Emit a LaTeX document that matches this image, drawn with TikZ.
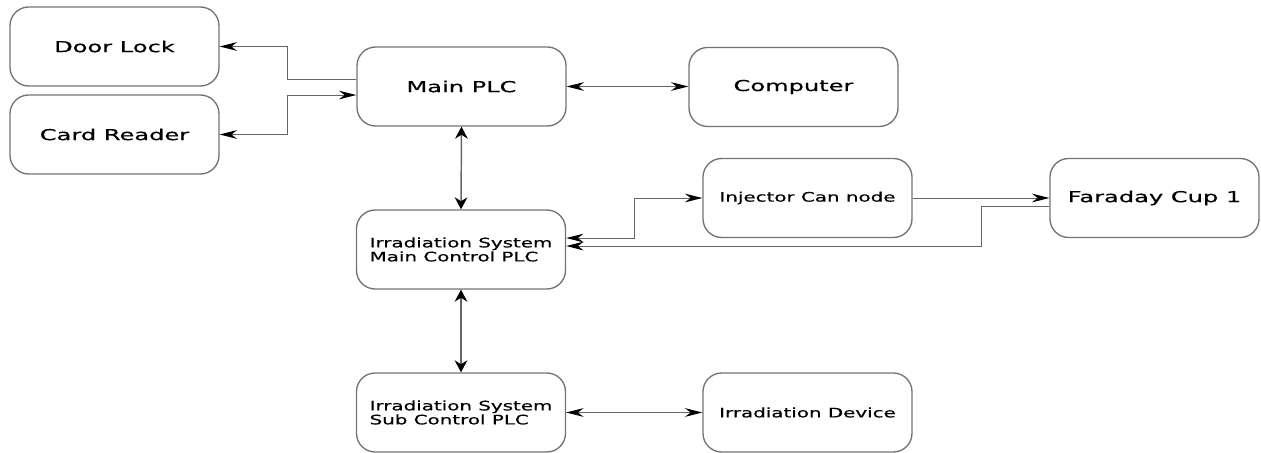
\documentclass[tikz,border=0pt]{standalone}
\usepackage{fontspec}
\setmainfont{DejaVu Sans}
\usepackage{graphicx}
\usetikzlibrary{arrows.meta}

% texte etire en largeur
\newcommand{\grand}[1]{\scalebox{1.6}[1]{\fontsize{11.3}{13}\selectfont\addfontfeature{FakeBold=0.4}#1}}
\newcommand{\petit}[1]{\scalebox{1.52}[1]{\fontsize{9.8}{9.4}\selectfont\addfontfeature{FakeBold=0.4}#1}}

\begin{document}
\begin{tikzpicture}[x=0.75pt, y=-0.75pt,
    bloc/.style={draw=black!55, line width=1pt, rounded corners=14pt,
      minimum width=156.75pt, minimum height=59.25pt, inner sep=0pt},
    deuxlignes/.style={align=left, font=\fontsize{9.8}{9.4}\selectfont},
    lien/.style={draw=black!60, line width=0.75pt},
    hfleche/.style={>={Stealth[length=13pt,width=6.5pt,black]}},
    vfleche/.style={line width=1.1pt, >={Stealth[length=9pt,width=9.5pt,black]}}]
    \useasboundingbox (0,0) rectangle (1261,453);
    % blocs
    \node[bloc] (porte) at (114.5,46.5) {\grand{Door Lock}};
    \node[bloc] (carte) at (114.5,134.5) {\grand{Card Reader}};
    \node[bloc] (plc) at (461.5,86.5) {\grand{Main PLC}};
    \node[bloc] (pc) at (793.5,87) {\grand{Computer}};
    \node[bloc, deuxlignes] (irrmain) at (461,249.5) {\petit{Irradiation System}\\\petit{Main Control PLC}};
    \node[bloc] (inj) at (807.5,198) {\petit{Injector Can node}};
    \node[bloc] (fc) at (1154.5,198) {\grand{Faraday Cup 1}};
    \node[bloc, deuxlignes] (irrsub) at (461,412.5) {\petit{Irradiation System}\\\petit{Sub Control PLC}};
    \node[bloc] (dev) at (807.5,412.5) {\petit{Irradiation Device}};
    % points de passage
    \coordinate (busG) at (287,0);
    \coordinate (busI) at (634,0);
    \coordinate (busF) at (981,0);
    \coordinate (plcA) at ([yshift=5.6pt]plc.west);
    \coordinate (plcB) at ([yshift=-6.4pt]plc.west);
    \coordinate (irrA) at ([yshift=8.6pt]irrmain.east);
    \coordinate (irrB) at ([yshift=2.6pt]irrmain.east);
    \coordinate (fcA) at ([yshift=-6pt]fc.west);
    % liaisons
    \draw[lien, hfleche, ->] (plcA) -| (busG |- porte.east) -- (porte.east);
    \draw[lien, hfleche, <->] (carte.east) -| (busG |- plcB) -- (plcB);
    \draw[lien, hfleche, <->] (plc.east) -- (plc.east -| pc.west);
    \draw[lien, vfleche, <->] (plc.south) -- (irrmain.north);
    \draw[lien, vfleche, <->] (irrmain.south) -- (irrsub.north);
    \draw[lien, hfleche, <->] (irrsub.east) -- (dev.west);
    \draw[lien, hfleche, <->] (irrA) -| (busI |- inj.west) -- (inj.west);
    \draw[lien, hfleche, ->] (inj.east) -- (fc.west);
    \draw[lien, hfleche, ->] (fcA) -| (busF |- irrB) -- (irrB);
\end{tikzpicture}
\end{document}
